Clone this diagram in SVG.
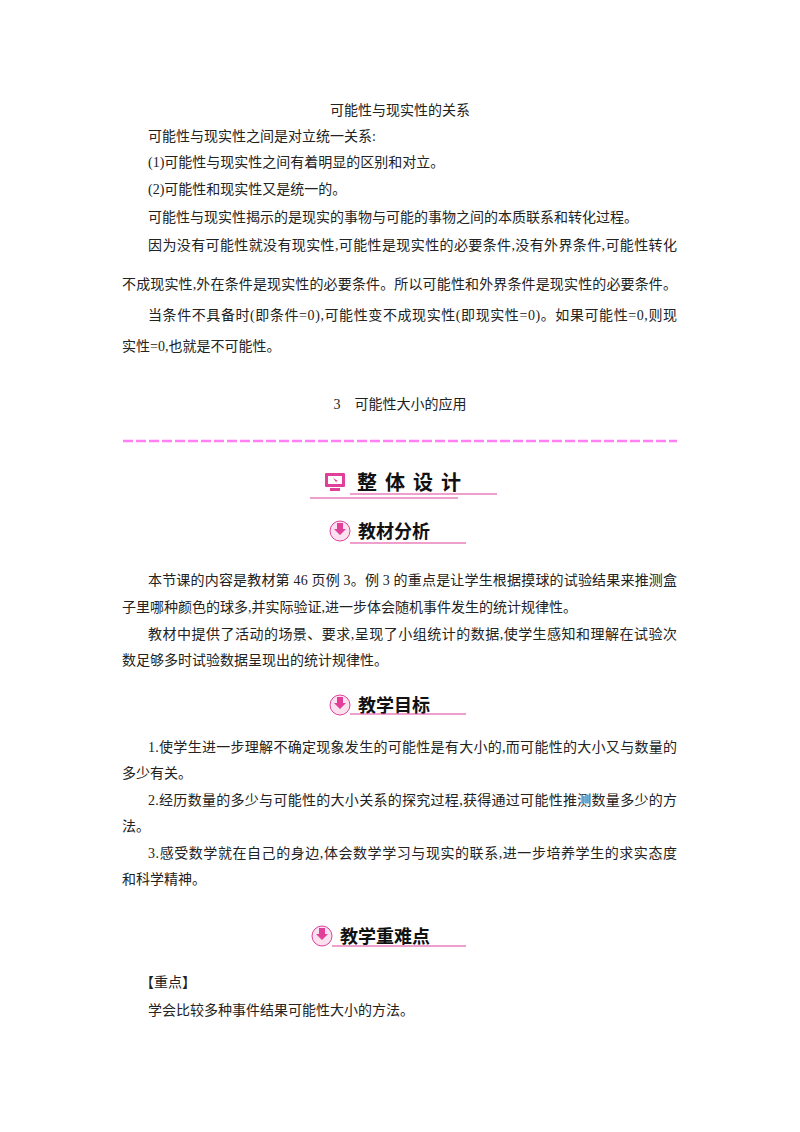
<svg xmlns="http://www.w3.org/2000/svg" width="800" height="1132" viewBox="0 0 800 1132">
<style>
text{font-family:"Liberation Serif","Noto Sans CJK SC",serif;font-size:14px;fill:#222}
.h1{font-size:20px;letter-spacing:8px;fill:#111;font-weight:bold}
.h2{font-size:18px;fill:#111;font-weight:bold}
.pk{stroke:#e0409a;stroke-width:1.2;fill:none}
</style>
<rect width="800" height="1132" fill="#fff"/>
<g id="top">
<text x="400" y="115" text-anchor="middle">可能性与现实性的关系</text>
<text x="148" y="141">可能性与现实性之间是对立统一关系:</text>
<text x="148" y="167">(1)可能性与现实性之间有着明显的区别和对立。</text>
<text x="148" y="194">(2)可能性和现实性又是统一的。</text>
<text x="148" y="222">可能性与现实性揭示的是现实的事物与可能的事物之间的本质联系和转化过程。</text>
<text x="148" y="250" textLength="529" lengthAdjust="spacing">因为没有可能性就没有现实性,可能性是现实性的必要条件,没有外界条件,可能性转化</text>
<text x="122" y="289" textLength="555" lengthAdjust="spacing">不成现实性,外在条件是现实性的必要条件。所以可能性和外界条件是现实性的必要条件。</text>
<text x="148" y="320" textLength="529" lengthAdjust="spacing">当条件不具备时(即条件=0),可能性变不成现实性(即现实性=0)。如果可能性=0,则现</text>
<text x="122" y="351">实性=0,也就是不可能性。</text>
<text x="400" y="409" text-anchor="middle">3　可能性大小的应用</text>
<line x1="123" y1="441" x2="677" y2="441" stroke="#ff7ff5" stroke-width="2.5" stroke-dasharray="10,3"/>
</g>
<g id="h-design">
<rect x="325" y="473" width="20" height="14" rx="1" fill="#e0409a"/>
<rect x="328" y="476" width="14" height="8" fill="#fff"/>
<path d="M333 478 l5 3 l-2 0.5 l1 2 z" fill="#e0409a"/>
<rect x="330" y="488" width="10" height="3" fill="#e0409a"/>
<text class="h1" x="357" y="490">整体设计</text>
<line class="pk" x1="310" y1="498" x2="458" y2="498"/>
<line class="pk" x1="350" y1="494" x2="497" y2="494"/>
</g>
<g id="h-analysis">
<circle cx="340" cy="531" r="10" fill="#fbe0ee" stroke="#e0409a"/>
<path d="M337 523 h6 v6 h3 l-6 6 l-6 -6 h3 z" fill="#e0409a"/>
<text class="h2" x="358" y="538">教材分析</text>
<line class="pk" x1="350" y1="543" x2="466" y2="543"/>
</g>
<g id="p1">
<text x="148" y="585" textLength="529" lengthAdjust="spacing">本节课的内容是教材第 46 页例 3。例 3 的重点是让学生根据摸球的试验结果来推测盒</text>
<text x="122" y="612">子里哪种颜色的球多,并实际验证,进一步体会随机事件发生的统计规律性。</text>
<text x="148" y="639" textLength="529" lengthAdjust="spacing">教材中提供了活动的场景、要求,呈现了小组统计的数据,使学生感知和理解在试验次</text>
<text x="122" y="665">数足够多时试验数据呈现出的统计规律性。</text>
</g>
<g id="h-goal">
<circle cx="340" cy="705" r="10" fill="#fbe0ee" stroke="#e0409a"/>
<path d="M337 697 h6 v6 h3 l-6 6 l-6 -6 h3 z" fill="#e0409a"/>
<text class="h2" x="358" y="712">教学目标</text>
<line class="pk" x1="350" y1="714" x2="466" y2="714"/>
</g>
<g id="p2">
<text x="148" y="752" textLength="529" lengthAdjust="spacing">1.使学生进一步理解不确定现象发生的可能性是有大小的,而可能性的大小又与数量的</text>
<text x="122" y="778">多少有关。</text>
<text x="148" y="805" textLength="529" lengthAdjust="spacing">2.经历数量的多少与可能性的大小关系的探究过程,获得通过可能性推测数量多少的方</text>
<text x="122" y="831">法。</text>
<text x="148" y="858" textLength="529" lengthAdjust="spacing">3.感受数学就在自己的身边,体会数学学习与现实的联系,进一步培养学生的求实态度</text>
<text x="122" y="884">和科学精神。</text>
</g>
<g id="h-key">
<circle cx="322" cy="936" r="10" fill="#fbe0ee" stroke="#e0409a"/>
<path d="M319 928 h6 v6 h3 l-6 6 l-6 -6 h3 z" fill="#e0409a"/>
<text class="h2" x="340" y="943">教学重难点</text>
<line class="pk" x1="332" y1="946" x2="466" y2="946"/>
</g>
<g id="p3">
<text x="140" y="987">【重点】</text>
<text x="148" y="1015">学会比较多种事件结果可能性大小的方法。</text>
</g>
</svg>
